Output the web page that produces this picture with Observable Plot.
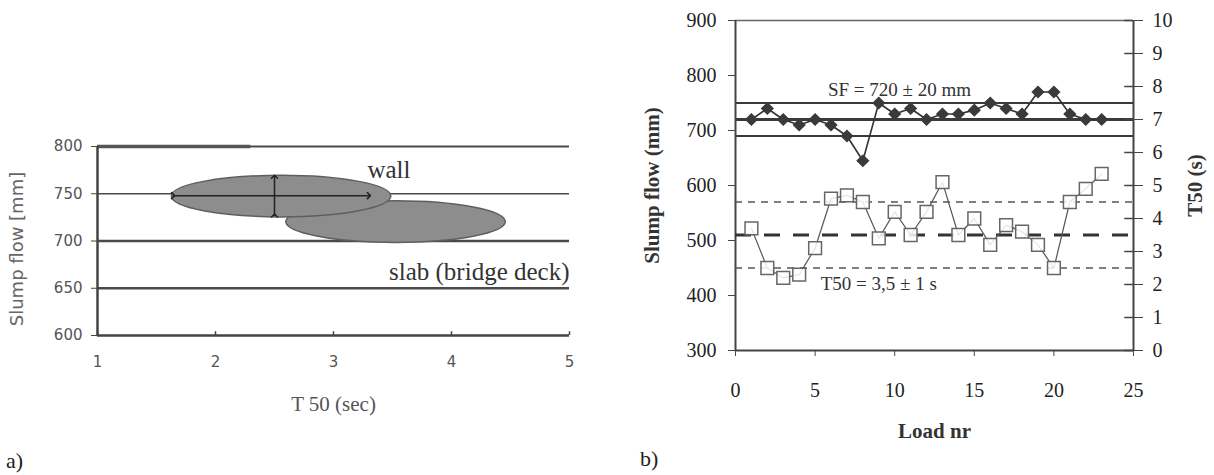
<!DOCTYPE html>
<html>
<head>
<meta charset="utf-8">
<script src="https://cdn.jsdelivr.net/npm/d3@7"></script>
<script src="https://cdn.jsdelivr.net/npm/@observablehq/plot@0.6"></script>
<style>
  html, body { margin: 0; padding: 0; background: #fff; }
  #wrap { position: relative; width: 1214px; height: 475px; overflow: hidden; background: #fff; }
  #wrap > svg { position: absolute; top: 0; }
  .cap { position: absolute; font-family: "Liberation Serif", serif; font-size: 22px; color: #222; }
</style>
</head>
<body>
<div id="wrap"></div>
<script>
// ---------- Panel a data ----------
const aXTicks = [1, 2, 3, 4, 5];
const aYTicks = [600, 650, 700, 750, 800];
const aGridValues = [800, 750, 700, 650];
const aGridWidths = [2, 1.5, 2.5, 2.5];
const ellipseNames = ["slab (bridge deck)", "wall"];
const ellipseT50 = [3.53, 2.56];
const ellipseSF = [720, 747];
const ellipseT50Half = [0.93, 0.93];
const ellipseSFHalf = [22, 22];
const arrowH = {t1: 1.64, t2: 3.3, sf: 748};
const arrowV = {t: 2.5, sf1: 727, sf2: 768};
const wallLabel = {s: "wall", x: 3.47, y: 775};
const slabLabel = {s: "slab (bridge deck)", x: 5, y: 667};

// ---------- Panel b data ----------
const loads = [1,2,3,4,5,6,7,8,9,10,11,12,13,14,15,16,17,18,19,20,21,22,23];
const slumpFlow = [720,740,720,710,720,710,690,645,750,730,740,720,730,730,737,750,740,730,770,770,730,720,720];
const t50 = [3.7,2.5,2.2,2.3,3.1,4.6,4.7,4.5,3.4,4.2,3.5,4.2,5.1,3.5,4.0,3.2,3.8,3.6,3.2,2.5,4.5,4.9,5.35];
const bXTicks = [0, 5, 10, 15, 20, 25];
const sfTicks = [300, 400, 500, 600, 700, 800, 900];
const t50Ticks = [0,1,2,3,4,5,6,7,8,9,10];
const sfLimits = [750, 720, 690];
const sfLimitWidths = [2, 3, 2];
const t50Limits = [4.5, 2.5];
const t50Target = 3.5;

const wrap = document.getElementById("wrap");
const serif = "Liberation Serif, Times New Roman, serif";

// ---------- Panel a ----------
const aGrid = aGridValues.map((v, i) => ({v, w: aGridWidths[i]}));
const ellipses = ellipseNames.map((n, i) => ({n, cx: ellipseT50[i], cy: ellipseSF[i], rx: ellipseT50Half[i], ry: ellipseSFHalf[i]}));

const panelA = Plot.plot({
  width: 620, height: 475,
  marginLeft: 97, marginRight: 51, marginTop: 146, marginBottom: 140,
  x: {domain: [1, 5]},
  y: {domain: [600, 800]},
  style: {fontFamily: "DejaVu Sans, sans-serif", fontSize: "15px", color: "#555", background: "transparent", overflow: "visible"},
  marks: [
    Plot.ruleY(aGrid, {y: "v", x1: 1, x2: 5, stroke: "#4a4a4a", strokeWidth: "w"}),
    Plot.ruleY([800], {x1: 1, x2: 2.3, stroke: "#555", strokeWidth: 3.5}),
    (index, scales) => {
      const g = d3.create("svg:g");
      for (const e of ellipses) {
        const cx = scales.x(e.cx), cy = scales.y(e.cy);
        const rx = Math.abs(scales.x(e.cx + e.rx) - cx);
        const ry = Math.abs(scales.y(e.cy + e.ry) - cy);
        g.append("ellipse").attr("cx", cx).attr("cy", cy).attr("rx", rx).attr("ry", ry)
          .attr("fill", "#8d8d8d").attr("stroke", "#5e5e5e").attr("stroke-width", 1.5);
      }
      return g.node();
    },
    Plot.link([arrowH], {x1: "t1", x2: "t2", y1: "sf", y2: "sf", stroke: "#222", strokeWidth: 1.5, markerStart: "arrow", markerEnd: "arrow"}),
    Plot.link([arrowV], {x1: "t", x2: "t", y1: "sf1", y2: "sf2", stroke: "#222", strokeWidth: 1.5, markerStart: "arrow", markerEnd: "arrow"}),
    Plot.text([wallLabel], {x: "x", y: "y", text: "s", textAnchor: "middle", fontFamily: serif, fontSize: 25, fill: "#333"}),
    Plot.text([slabLabel], {x: "x", y: "y", text: "s", textAnchor: "end", fontFamily: serif, fontSize: 25, fill: "#333"}),
    Plot.ruleX([1], {y1: 600, y2: 800, stroke: "#444", strokeWidth: 2.5}),
    Plot.ruleY([600], {x1: 1, x2: 5, stroke: "#444", strokeWidth: 2.5}),
    Plot.ruleX(aXTicks, {x: d => d, y1: 600, y2: 604, stroke: "#444", strokeWidth: 1.5}),
    Plot.axisY({ticks: aYTicks, tickSize: 6, tickPadding: 9, label: null, stroke: "#444"}),
    Plot.axisX({ticks: aXTicks, tickFormat: "d", tickSize: 0, tickPadding: 21, label: null}),
    Plot.text(["T 50 (sec)"], {frameAnchor: "bottom", dy: 75, fontFamily: serif, fontSize: 21, fill: "#555"}),
    Plot.text(["Slump flow [mm]"], {frameAnchor: "left", textAnchor: "middle", rotate: -90, dx: -80, dy: 8, fontFamily: "DejaVu Sans, sans-serif", fontSize: 18, fill: "#666"})
  ]
});
panelA.style.left = "0px";
wrap.appendChild(panelA);

// ---------- Panel b (slump flow, left axis) ----------
const sfData = loads.map((l, i) => ({load: l, sf: slumpFlow[i]}));
const sfLines = sfLimits.map((v, i) => ({v, w: sfLimitWidths[i]}));
const common = {
  width: 594, height: 475,
  marginLeft: 115, marginRight: 81, marginTop: 20, marginBottom: 125
};
const panelB = Plot.plot({
  ...common,
  x: {domain: [0, 25]},
  y: {domain: [300, 900]},
  style: {fontFamily: serif, fontSize: "20px", color: "#222", background: "transparent", overflow: "visible"},
  marks: [
    Plot.ruleY(sfLines, {y: "v", x1: 0, x2: 25, stroke: "#3a3a3a", strokeWidth: "w"}),
    Plot.ruleY([900], {x1: 0, x2: 25, stroke: "#666", strokeWidth: 1.5}),
    Plot.line(sfData, {x: "load", y: "sf", stroke: "#333", strokeWidth: 1.6}),
    Plot.dot(sfData, {x: "load", y: "sf", symbol: "diamond2", r: 5, fill: "#3a3a3a", stroke: "#3a3a3a"}),
    Plot.ruleX([0], {y1: 300, y2: 900, stroke: "#444", strokeWidth: 2}),
    Plot.ruleY([300], {x1: 0, x2: 25, stroke: "#444", strokeWidth: 2}),
    Plot.axisY({ticks: sfTicks, tickSize: 7, tickPadding: 12, label: null, stroke: "#444"}),
    Plot.axisX({ticks: bXTicks, tickSize: 6, tickPadding: 26, label: null, stroke: "#444"}),
    Plot.text(["SF = 720 \u00b1 20 mm"], {x: 10.3, y: 750, dy: -13, fontSize: 19, fill: "#333"}),
    Plot.text(["Slump flow (mm)"], {frameAnchor: "left", textAnchor: "middle", rotate: -90, dx: -83, fontWeight: "bold", fontSize: 21, fill: "#333"}),
    Plot.text(["Load nr"], {frameAnchor: "bottom", dy: 87, fontWeight: "bold", fontSize: 21, fill: "#333"})
  ]
});
panelB.style.left = "620px";
wrap.appendChild(panelB);

// ---------- Panel b overlay (T50, right axis) ----------
const tData = loads.map((l, i) => ({load: l, t: t50[i]}));
const panelB2 = Plot.plot({
  ...common,
  x: {domain: [0, 25], axis: null},
  y: {domain: [0, 10], axis: null},
  style: {fontFamily: serif, fontSize: "20px", color: "#222", background: "transparent", overflow: "visible"},
  marks: [
    Plot.ruleY(t50Limits, {y: d => d, x1: 0, x2: 25, stroke: "#555", strokeWidth: 1.6, strokeDasharray: "7,6"}),
    Plot.ruleY([t50Target], {x1: 0, x2: 25, stroke: "#333", strokeWidth: 3, strokeDasharray: "16,13"}),
    Plot.line(tData, {x: "load", y: "t", stroke: "#555", strokeWidth: 1.2}),
    Plot.dot(tData, {x: "load", y: "t", symbol: "square", r: 7.2, fill: "white", fillOpacity: 0.85, stroke: "#666", strokeWidth: 1.5}),
    Plot.ruleX([25], {y1: 0, y2: 10, stroke: "#444", strokeWidth: 2}),
    Plot.ruleY(t50Ticks, {y: d => d, x1: 25 - 0.55, x2: 25, stroke: "#444", strokeWidth: 1.5}),
    Plot.axisY({anchor: "right", ticks: t50Ticks, tickSize: 9, tickPadding: 10, label: null, stroke: "#444"}),
    Plot.text(["T50 = 3,5 \u00b1 1 s"], {x: 9, y: 2.5, dy: 16, fontSize: 19, fill: "#333"}),
    Plot.text(["T50 (s)"], {frameAnchor: "right", textAnchor: "middle", rotate: -90, dx: 62, fontWeight: "bold", fontSize: 21, fill: "#333"})
  ]
});
panelB2.style.left = "620px";
wrap.appendChild(panelB2);

// ---------- captions ----------
const ca = document.createElement("div");
ca.className = "cap"; ca.textContent = "a)"; ca.style.left = "6px"; ca.style.top = "448px";
wrap.appendChild(ca);
const cb = document.createElement("div");
cb.className = "cap"; cb.textContent = "b)"; cb.style.left = "640px"; cb.style.top = "446px";
wrap.appendChild(cb);
</script>
</body>
</html>
